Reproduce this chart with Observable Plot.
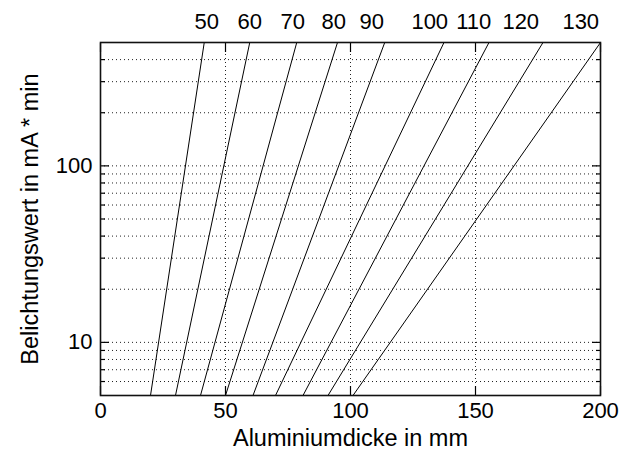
<!DOCTYPE html>
<html>
<head>
<meta charset="utf-8">
<script src="https://cdn.jsdelivr.net/npm/d3@7"></script>
<script src="https://cdn.jsdelivr.net/npm/@observablehq/plot@0.6"></script>
<style>
  html, body { margin: 0; padding: 0; background: #fff; }
</style>
</head>
<body>
<div id="chart"></div>
<script>
// Tube voltage curves (kV)
const kV = [50, 60, 70, 80, 90, 100, 110, 120, 130];
// Aluminium thickness (mm) where each curve crosses 5 mA*min
const xAtLow = [20, 30, 40, 50, 61, 70, 81, 91, 101];
// Aluminium thickness (mm) where each curve crosses 500 mA*min
const xAtHigh = [41.5, 59.7, 78.5, 94.8, 113.7, 137.4, 155.4, 177, 200];
const yLow = 5;
const yHigh = 500;
// Positions (mm) of the kV labels above the chart
const kVLabelX = [42.5, 59.7, 76.9, 93.3, 108.5, 131.7, 149.3, 168.1, 192.1];

const xTicks = [0, 50, 100, 150, 200];
const xGrid = [50, 100, 150];
const yMajor = [10, 100];
const yMinor = [6, 7, 8, 9, 20, 30, 40, 50, 60, 70, 80, 90, 200, 300, 400];
const yGrid = [6, 7, 8, 9, 10, 20, 30, 40, 50, 60, 70, 80, 90, 100, 200, 300, 400];

const xLabel = "Aluminiumdicke in mm";
const yLabel = "Belichtungswert in mA * min";

const lineData = kV.flatMap((k, i) => [
  {kV: k, x: xAtLow[i], y: yLow},
  {kV: k, x: xAtHigh[i], y: yHigh}
]);
const kvLabels = kV.map((k, i) => ({kV: k, x: kVLabelX[i]}));

const blank = () => "";
const dots = {stroke: "#222", strokeWidth: 1, strokeDasharray: "1,3"};

const chart = Plot.plot({
  width: 635,
  height: 453,
  marginLeft: 100,
  marginRight: 35,
  marginTop: 42,
  marginBottom: 58,
  style: {fontFamily: "Liberation Sans, Arial, sans-serif", fontSize: "22px", color: "#000", background: "#fff"},
  x: {domain: [0, 200], axis: null},
  y: {type: "log", domain: [yLow, yHigh], axis: null},
  marks: [
    Plot.ruleY(yGrid, dots),
    Plot.ruleX(xGrid, dots),
    Plot.line(lineData, {x: "x", y: "y", z: "kV", stroke: "#000", strokeWidth: 1}),
    // inward ticks
    Plot.axisY(yMajor, {anchor: "left", tickSize: -9, tickFormat: blank, label: null, strokeWidth: 1.2}),
    Plot.axisY(yMinor, {anchor: "left", tickSize: -5, tickFormat: blank, label: null, strokeWidth: 1.2}),
    Plot.axisY(yMajor, {anchor: "right", tickSize: -9, tickFormat: blank, label: null, strokeWidth: 1.2}),
    Plot.axisY(yMinor, {anchor: "right", tickSize: -5, tickFormat: blank, label: null, strokeWidth: 1.2}),
    Plot.axisX(xTicks, {anchor: "bottom", tickSize: -9, tickFormat: blank, label: null, strokeWidth: 1.2}),
    Plot.axisX(xTicks, {anchor: "top", tickSize: -9, tickFormat: blank, label: null, strokeWidth: 1.2}),
    // tick labels
    Plot.axisY(yMajor, {anchor: "left", tickSize: 0, tickPadding: 8, label: null, tickFormat: d => String(d), fill: "#000"}),
    Plot.axisX(xTicks, {anchor: "bottom", tickSize: 0, tickPadding: 7, label: null, tickFormat: d => String(d), fill: "#000"}),
    Plot.text(kvLabels, {x: "x", text: d => String(d.kV), frameAnchor: "top", dy: -21, lineAnchor: "middle", textAnchor: "middle", fill: "#000"}),
    // axis titles
    Plot.text([xLabel], {text: d => d, frameAnchor: "bottom", dy: 43, lineAnchor: "middle", textAnchor: "middle", fill: "#000", fontSize: 23.5}),
    Plot.text([yLabel], {text: d => d, frameAnchor: "left", dx: -70, rotate: -90, lineAnchor: "middle", textAnchor: "middle", fill: "#000", fontSize: 23.5}),
    Plot.frame({stroke: "#111", strokeWidth: 1.6})
  ]
});
document.getElementById("chart").appendChild(chart);
</script>
</body>
</html>
